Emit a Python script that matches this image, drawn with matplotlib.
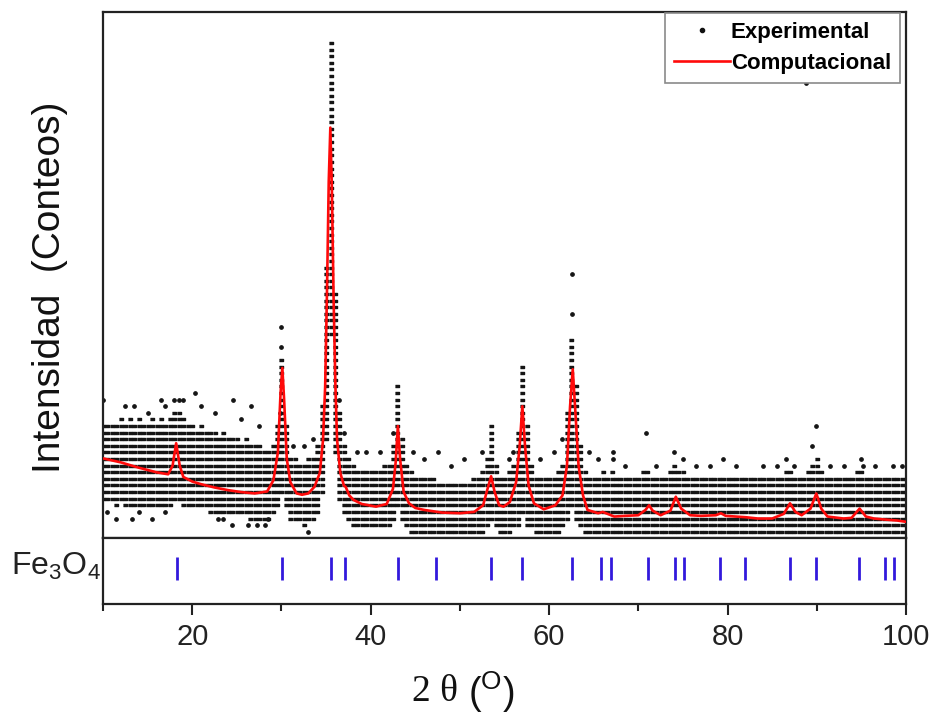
import matplotlib
matplotlib.use("Agg")
import matplotlib.pyplot as plt
from matplotlib.lines import Line2D
from matplotlib.ticker import MultipleLocator

plt.rcParams['font.family'] = ['Liberation Sans', 'DejaVu Sans']
plt.rcParams['mathtext.fontset'] = 'custom'
plt.rcParams['mathtext.rm'] = 'Liberation Sans'
plt.rcParams['mathtext.it'] = 'Liberation Sans:italic'

# --- data (intensity in counting steps) ---

# experimental pattern: one column every 0.5 deg, dense band lo..hi
exp_2theta = [
    10.0, 10.5, 11.0, 11.5, 12.0, 12.5, 13.0, 13.5, 14.0, 14.5,
    15.0, 15.5, 16.0, 16.5, 17.0, 17.5, 18.0, 18.5, 19.0, 19.5,
    20.0, 20.5, 21.0, 21.5, 22.0, 22.5, 23.0, 23.5, 24.0, 24.5,
    25.0, 25.5, 26.0, 26.5, 27.0, 27.5, 28.0, 28.5, 29.0, 29.5,
    30.0, 30.5, 31.0, 31.5, 32.0, 32.5, 33.0, 33.5, 34.0, 34.5,
    35.0, 35.5, 36.0, 36.5, 37.0, 37.5, 38.0, 38.5, 39.0, 39.5,
    40.0, 40.5, 41.0, 41.5, 42.0, 42.5, 43.0, 43.5, 44.0, 44.5,
    45.0, 45.5, 46.0, 46.5, 47.0, 47.5, 48.0, 48.5, 49.0, 49.5,
    50.0, 50.5, 51.0, 51.5, 52.0, 52.5, 53.0, 53.5, 54.0, 54.5,
    55.0, 55.5, 56.0, 56.5, 57.0, 57.5, 58.0, 58.5, 59.0, 59.5,
    60.0, 60.5, 61.0, 61.5, 62.0, 62.5, 63.0, 63.5, 64.0, 64.5,
    65.0, 65.5, 66.0, 66.5, 67.0, 67.5, 68.0, 68.5, 69.0, 69.5,
    70.0, 70.5, 71.0, 71.5, 72.0, 72.5, 73.0, 73.5, 74.0, 74.5,
    75.0, 75.5, 76.0, 76.5, 77.0, 77.5, 78.0, 78.5, 79.0, 79.5,
    80.0, 80.5, 81.0, 81.5, 82.0, 82.5, 83.0, 83.5, 84.0, 84.5,
    85.0, 85.5, 86.0, 86.5, 87.0, 87.5, 88.0, 88.5, 89.0, 89.5,
    90.0, 90.5, 91.0, 91.5, 92.0, 92.5, 93.0, 93.5, 94.0, 94.5,
    95.0, 95.5, 96.0, 96.5, 97.0, 97.5, 98.0, 98.5, 99.0, 99.5,
    100.0,
]
exp_lo = [
    5, 5, 5, 4, 5, 4, 4, 4, 4, 4,
    4, 4, 4, 4, 4, 4, 5, 5, 4, 4,
    4, 4, 4, 4, 3, 3, 3, 3, 3, 3,
    3, 3, 3, 2, 2, 2, 2, 2, 3, 4,
    6, 4, 2, 2, 2, 1, 2, 2, 3, 6,
    14, 30, 12, 5, 3, 2, 1, 1, 1, 1,
    1, 1, 1, 1, 1, 2, 4, 2, 1, 0,
    0, 0, 0, 0, 0, 0, 0, 0, 0, 0,
    0, 0, 0, 0, 0, 0, 1, 2, 1, 0,
    0, 0, 1, 1, 3, 1, 1, 0, 0, 0,
    0, 0, 0, 1, 2, 4, 2, 1, 0, 0,
    0, 0, 0, 0, 0, 0, 0, 0, 0, 0,
    0, 0, 0, 0, 0, 0, 0, 0, 0, 0,
    0, 0, 0, 0, 0, 0, 0, 0, 0, 0,
    0, 0, 0, 0, 0, 0, 0, 0, 0, 0,
    0, 0, 0, 0, 0, 0, 0, 0, 0, 0,
    0, 0, 0, 0, 0, 0, 0, 0, 0, 0,
    0, 0, 0, 0, 0, 0, 0, 0, 0, 0,
    0,
]
exp_hi = [
    16, 16, 16, 16, 17, 16, 17, 16, 17, 16,
    16, 17, 16, 17, 16, 17, 18, 18, 17, 16,
    16, 15, 16, 15, 15, 15, 14, 15, 14, 14,
    14, 13, 14, 13, 13, 13, 12, 12, 13, 16,
    26, 16, 11, 11, 10, 10, 11, 11, 13, 19,
    40, 74, 36, 18, 13, 11, 10, 9, 9, 9,
    9, 9, 9, 10, 10, 13, 22, 14, 10, 9,
    8, 8, 8, 8, 8, 7, 7, 7, 7, 7,
    7, 7, 7, 8, 8, 9, 11, 16, 10, 8,
    8, 9, 10, 15, 25, 16, 10, 8, 8, 8,
    8, 8, 9, 10, 18, 29, 22, 13, 9, 8,
    8, 8, 9, 8, 9, 8, 8, 8, 8, 8,
    8, 9, 9, 8, 8, 8, 8, 9, 10, 9,
    9, 8, 8, 8, 8, 8, 8, 8, 8, 8,
    8, 8, 8, 8, 8, 8, 8, 8, 8, 8,
    8, 8, 8, 9, 9, 8, 8, 8, 9, 10,
    11, 9, 8, 8, 8, 8, 8, 8, 8, 9,
    9, 8, 8, 8, 8, 8, 8, 8, 8, 8,
    8,
]

# isolated experimental points outside the dense band
out_2theta = [
    10.0, 12.5, 13.5, 15.0, 16.5, 17.0, 18.0, 18.5, 19.0, 20.3,
    21.0, 22.5, 24.6, 26.6, 25.5, 27.5, 10.5, 11.5, 13.2, 14.0,
    15.5, 17.0, 22.9, 23.5, 24.5, 26.3, 27.3, 28.2, 28.5, 30.0,
    30.0, 29.8, 31.3, 32.5, 33.0, 33.5, 36.5, 37.0, 38.5, 39.5,
    41.0, 42.5, 44.8, 46.0, 47.5, 49.0, 50.5, 52.5, 55.5, 56.0,
    59.0, 60.5, 61.5, 62.6, 62.6, 64.5, 65.5, 67.2, 67.2, 68.5,
    70.9, 72.0, 74.0, 75.0, 76.5, 78.0, 79.5, 81.0, 84.0, 85.5,
    86.5, 87.5, 89.5, 89.9, 91.5, 93.0, 95.0, 95.2, 96.5, 98.5,
    99.5, 88.8,
]
out_counts = [
    20, 19, 19, 18, 20, 19, 20, 20, 20, 21,
    19, 18, 20, 19, 17, 16, 3, 2, 2, 3,
    2, 3, 2, 2, 1, 1, 1, 1, 2, 28,
    31, 18, 13, 13, 0, 14, 20, 15, 12, 12,
    12, 15, 12, 11, 12, 10, 11, 12, 11, 12,
    11, 12, 14, 33, 39, 12, 11, 12, 11, 10,
    15, 10, 12, 11, 10, 10, 11, 10, 10, 10,
    11, 10, 13, 16, 10, 10, 11, 10, 10, 10,
    10, 68,
]

# computed (fitted) pattern
calc_2theta = [
    10.0, 12.0, 14.0, 16.0, 17.3, 17.8, 18.2, 18.6, 19.0, 20.0,
    21.0, 22.5, 24.0, 25.5, 27.0, 28.4, 29.1, 29.6, 29.9, 30.1,
    30.3, 30.6, 31.0, 31.7, 32.3, 33.0, 33.7, 34.3, 34.66, 34.9,
    35.1, 35.3, 35.48, 35.65, 35.85, 36.05, 36.23, 36.6, 37.0, 37.2,
    37.6, 38.1, 39.0, 40.6, 41.8, 42.5, 42.8, 43.05, 43.3, 43.7,
    44.3, 45.0, 46.0, 48.0, 50.0, 51.6, 52.6, 53.1, 53.5, 53.9,
    54.4, 54.9, 55.6, 56.3, 56.7, 57.0, 57.3, 57.7, 58.3, 59.4,
    60.7, 61.5, 62.0, 62.35, 62.65, 62.95, 63.3, 63.8, 64.3, 65.5,
    66.0, 67.3, 68.5, 70.0, 70.8, 71.2, 71.6, 72.5, 73.6, 74.2,
    74.8, 75.2, 75.8, 77.0, 78.7, 79.25, 79.8, 82.0, 83.4, 85.0,
    86.3, 87.0, 87.6, 88.3, 89.3, 89.95, 90.5, 91.2, 93.0, 93.9,
    94.8, 95.5, 96.4, 98.0, 99.0, 100.0,
]
calc_counts = [
    11.1, 10.5, 9.7, 9.0, 8.7, 10.0, 13.4, 10.0, 8.3, 7.6,
    7.2, 6.7, 6.3, 6.0, 5.8, 6.1, 7.8, 12.0, 21.0, 24.8,
    20.0, 11.0, 7.5, 5.8, 5.6, 5.8, 6.8, 8.9, 13.9, 22.0,
    36.0, 53.0, 61.2, 52.0, 35.0, 22.0, 14.0, 8.9, 7.0, 6.8,
    5.5, 4.8, 4.2, 3.8, 4.2, 6.5, 10.5, 16.0, 11.0, 6.0,
    4.3, 3.6, 3.3, 2.9, 2.8, 3.0, 4.0, 6.5, 8.4, 6.0,
    4.0, 3.8, 4.5, 7.5, 13.0, 19.0, 13.0, 7.0, 4.3, 3.4,
    4.0, 5.5, 10.0, 19.0, 24.6, 18.0, 10.0, 5.5, 3.3, 2.8,
    3.0, 2.3, 2.4, 2.5, 3.3, 4.0, 3.2, 2.5, 3.2, 5.3,
    3.5, 3.1, 2.5, 2.4, 2.5, 2.8, 2.4, 2.2, 2.0, 2.0,
    2.7, 4.3, 3.0, 2.5, 3.5, 5.8, 3.5, 2.3, 2.0, 2.1,
    3.5, 2.3, 2.0, 1.8, 1.7, 1.5,
]

# Fe3O4 reflection positions
fe3o4_2theta = [
    18.3, 30.1, 35.5, 37.1, 43.1, 47.3, 53.5, 57.0, 62.6, 65.8,
    66.9, 71.1, 74.1, 75.1, 79.1, 82.0, 87.0, 89.9, 94.7, 97.6,
    98.6,
]

# --- figure ---

W, H = 937, 721
fig = plt.figure(figsize=(W / 100, H / 100), dpi=100)
ax = fig.add_axes([103 / W, 1 - 538 / H, 803 / W, 526 / H])
ax2 = fig.add_axes([103 / W, 1 - 604 / H, 803 / W, 66 / H], sharex=ax)

# dense band of the experimental scan, one dash per counting step
xs = []
ys = []
for t, lo, hi in zip(exp_2theta, exp_lo, exp_hi):
    for c in range(lo, hi + 1):
        xs.append(t)
        ys.append(c)

dash = [(-1, -0.75), (1, -0.75), (1, 0.75), (-1, 0.75)]
ax.plot(xs, ys, ls='none', marker=dash, ms=2.4, color='#151515', zorder=2)
ax.plot(out_2theta, out_counts, ls='none', marker='o', ms=2.4,
        color='#151515', zorder=2)
ax.plot(calc_2theta, calc_counts, color='#ff0a0a', lw=1.9, zorder=3)

ax.set_xlim(10, 100)
ax.set_ylim(-0.95, 78.7)
ax.tick_params(left=False, bottom=False, labelleft=False, labelbottom=False)

handles = [
    Line2D([], [], ls='none', marker='o', ms=3, color='#111111'),
    Line2D([], [], color='#ff0a0a', lw=1.9),
]
leg = ax.legend(handles, ['Experimental', 'Computacional'],
                loc='upper right', bbox_to_anchor=(900 / W, 1 - 13 / H),
                bbox_transform=fig.transFigure, borderaxespad=0,
                prop={'weight': 'bold', 'size': 16}, fancybox=False,
                handlelength=2.5, handletextpad=0.05, labelspacing=0.45,
                borderpad=0.4, framealpha=1)
leg.get_frame().set_edgecolor('#8a8a8a')
leg.get_frame().set_linewidth(1.2)

# reflection markers
ax2.vlines(fe3o4_2theta, 0.36, 0.71, color='#3219dc', lw=2.0)
ax2.set_ylim(0, 1)
ax2.tick_params(axis='y', left=False, labelleft=False)
ax2.xaxis.set_major_locator(MultipleLocator(20))
ax2.xaxis.set_minor_locator(MultipleLocator(10))
ax2.tick_params(axis='x', which='major', direction='out', length=8,
                width=1.5, labelsize=21, colors='#222222', pad=6)
ax2.tick_params(axis='x', which='minor', direction='out', length=5,
                width=1.5, colors='#222222')

for a in (ax, ax2):
    for s in a.spines.values():
        s.set_linewidth(1.6)
        s.set_color('#222222')

fig.text(50 / W, 1 - 287 / H, 'Intensidad  (Conteos)', rotation=90,
         ha='center', va='center', fontsize=28, color='#111111')
fig.text(11 / W, 1 - 566 / H, 'Fe$_{3}$O$_{4}$', ha='left', va='center',
         fontsize=23, color='#222222')
# axis title: "2 θ" in serif, "(º)" in sans
fig.text(458 / W, 1 - 692 / H, '2 θ', ha='right', va='center',
         fontsize=27, color='#111111', family='Liberation Serif')
fig.text(468 / W, 1 - 692 / H, r'($^{\rm O}$)', ha='left', va='center',
         fontsize=27, color='#111111')

fig.savefig('out.png', dpi=100)
